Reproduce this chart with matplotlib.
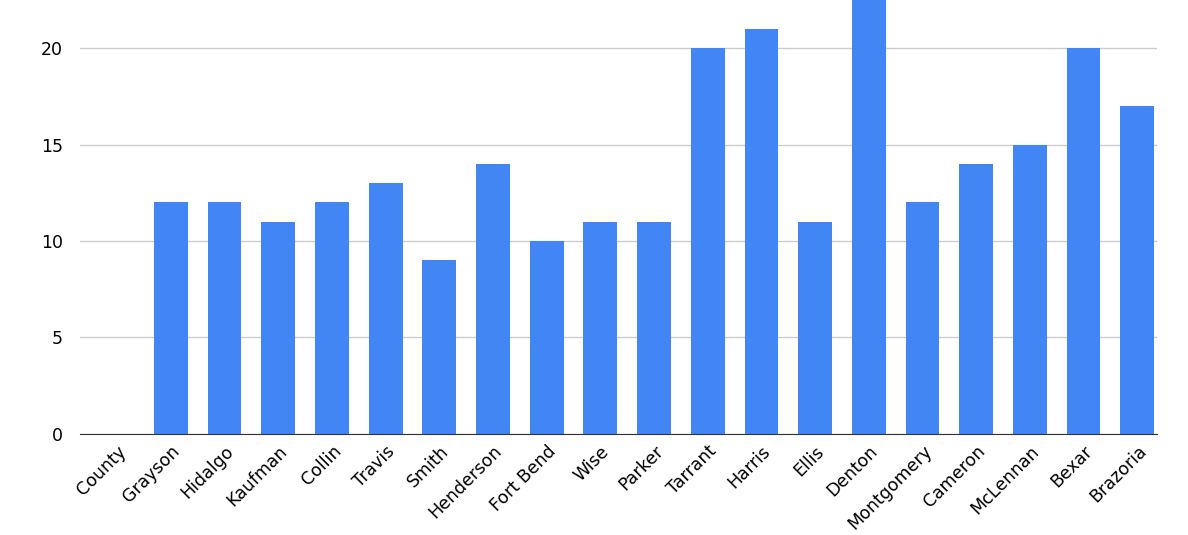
import matplotlib.pyplot as plt

counties = ['County', 'Grayson', 'Hidalgo', 'Kaufman', 'Collin', 'Travis', 'Smith',
            'Henderson', 'Fort Bend', 'Wise', 'Parker', 'Tarrant', 'Harris', 'Ellis',
            'Denton', 'Montgomery', 'Cameron', 'McLennan', 'Bexar', 'Brazoria']
values = [0, 12, 12, 11, 12, 13, 9, 14, 10, 11, 11, 20, 21, 11, 25, 12, 14, 15, 20, 17]

fig = plt.figure(figsize=(11.88, 5.35), dpi=100)
ax = fig.add_axes([0.067, 0.189, 0.907, 0.811])
x = range(len(counties))
ax.bar(x, values, width=0.63, color='#4285f4', zorder=3)
ax.set_xlim(-0.7, 19.37)
ax.set_ylim(0, 22.5)
ax.set_yticks([0, 5, 10, 15, 20])
ax.yaxis.grid(True, color='#cccccc', linewidth=1, zorder=0)
ax.set_xticks(list(x))
ax.set_xticklabels(counties, rotation=45, ha='right', rotation_mode='anchor', fontsize=12.5)
ax.tick_params(axis='y', labelsize=12.5, length=0, pad=12)
ax.tick_params(axis='x', length=0, pad=6)
for s in ['top', 'right', 'left']:
    ax.spines[s].set_visible(False)
ax.spines['bottom'].set_color('#333333')
ax.spines['bottom'].set_zorder(4)

fig.savefig('out.png', dpi=100)
